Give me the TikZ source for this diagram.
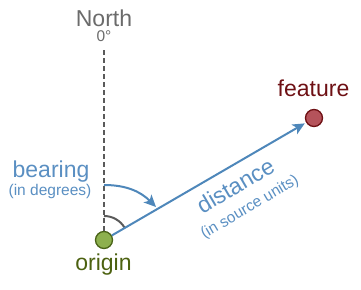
\documentclass[tikz,border=0pt]{standalone}
\usepackage{fontspec}
\setmainfont{Liberation Sans}
\usetikzlibrary{arrows.meta, calc, positioning}
\definecolor{dblue}{HTML}{4E87BA}
\definecolor{tblue}{HTML}{5A8FC2}
\definecolor{ogreen}{HTML}{8DB04E}
\definecolor{ogreendk}{HTML}{4A6418}
\definecolor{otext}{HTML}{4C6110}
\definecolor{fred}{HTML}{B5535B}
\definecolor{freddk}{HTML}{6E1014}
\definecolor{northg}{HTML}{6B6B6B}
\definecolor{lineg}{HTML}{5A5A5A}
\tikzset{
  bigtxt/.style    = {font=\fontsize{23}{27}\selectfont, inner sep=0pt, anchor=base},
  smalltxt/.style  = {font=\fontsize{15.5}{18}\selectfont, inner sep=0pt, anchor=base},
  origindot/.style = {circle, fill=ogreen, draw=ogreendk, line width=1.3pt,
                      minimum size=17pt, inner sep=0pt},
  featuredot/.style= {circle, fill=fred, draw=freddk, line width=1.3pt,
                      minimum size=17pt, inner sep=0pt},
  northline/.style = {draw=lineg, line width=1.8pt, dash pattern=on 5pt off 3pt},
  distline/.style  = {draw=dblue, line width=2pt,
                      -{Stealth[length=12pt, width=11pt, inset=3pt]}},
  anglearc/.style  = {draw=lineg, line width=2pt},
}
\begin{document}
\begin{tikzpicture}[x=1pt, y=1pt]
  \useasboundingbox (0,0) rectangle (361,289);
  \node[origindot] (origin) at (104,49) {};
  \node[featuredot] (feature) at (314,171) {};
  \coordinate (ntop) at (104,241);
  \coordinate (bstart) at (104,104);
  \coordinate (bend) at (156,82);
  % labels
  \node[bigtxt, text=northg] (north) at (104,262) {North};
  \node[smalltxt, text=northg] (zero) at (104,247) {0°};
  \node[bigtxt, text=tblue] (bearing) at (51,111) {bearing};
  \node[smalltxt, text=tblue] (bunit) at (50,93) {(in degrees)};
  \node[bigtxt, text=otext] (olabel) at (103.5,19) {origin};
  \node[bigtxt, text=freddk] (flabel) at (313.5,192) {feature};
  \node[bigtxt, text=tblue, rotate=30.4] (dist) at (239.5,96.5) {distance};
  \node[smalltxt, text=tblue, rotate=30.4] (dunit) at (252,78) {(in source units)};
  % lines
  \draw[northline] (origin) -- (ntop);
  \draw[anglearc] ($(origin)+(0,24)$) arc[start angle=90, end angle=30.4, radius=24];
  \draw[distline, shorten >=1.5pt] (origin) -- (feature);
  \draw[draw=dblue, line width=2pt, -{Stealth[length=12pt, width=11pt, inset=3pt]}]
    (bstart) to[out=0, in=135] (bend);
\end{tikzpicture}
\end{document}
